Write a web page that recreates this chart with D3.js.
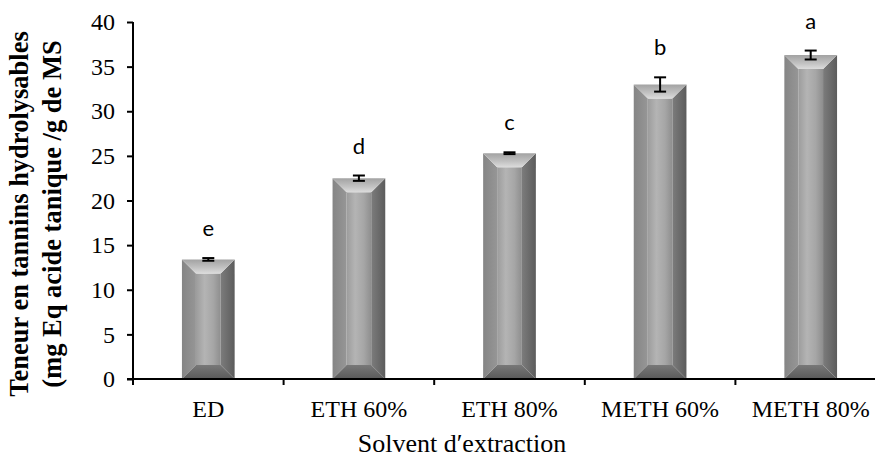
<!DOCTYPE html>
<html>
<head>
<meta charset="utf-8">
<script src="https://cdn.jsdelivr.net/npm/d3@7/dist/d3.min.js"></script>
<style>
  html, body { margin: 0; padding: 0; background: #ffffff; }
  svg { display: block; }
</style>
</head>
<body>
<svg id="chart" width="875" height="465"></svg>
<script>
// Hydrolysable tannin content by extraction solvent
const categories = ["ED", "ETH 60%", "ETH 80%", "METH 60%", "METH 80%"];
const values = [13.4, 22.5, 25.3, 33.0, 36.3];
const errors = [0.15, 0.3, 0.1, 0.8, 0.5];
const letters = ["e", "d", "c", "b", "a"];
const yTicks = [0, 5, 10, 15, 20, 25, 30, 35, 40];

const plotLeft = 133, plotRight = 886, plotTop = 22, plotBottom = 379;

const svg = d3.select("#chart");

const x = d3.scaleBand()
  .domain(categories)
  .range([plotLeft, plotRight])
  .paddingInner(0.65)
  .paddingOuter(0.325);

const y = d3.scaleLinear().domain([0, 40]).range([plotBottom, plotTop]);

// ---- gradients for the bevelled bar faces ----
const defs = svg.append("defs");
function linGrad(id, x1, y1, x2, y2, stops) {
  const g = defs.append("linearGradient").attr("id", id)
    .attr("x1", x1).attr("y1", y1).attr("x2", x2).attr("y2", y2);
  stops.forEach(([o, c]) => g.append("stop").attr("offset", o).attr("stop-color", c));
}
linGrad("gTop", 0, 0, 0, 1, [[0, "#a2a2a2"], [0.6, "#c2c2c2"], [1, "#dcdcdc"]]);
linGrad("gLeft", 0, 0, 1, 0, [[0, "#858585"], [1, "#969696"]]);
linGrad("gRight", 0, 0, 1, 0, [[0, "#7c7c7c"], [1, "#5c5c5c"]]);
linGrad("gBottom", 0, 0, 0, 1, [[0, "#787878"], [1, "#5a5a5a"]]);
linGrad("gFront", 0, 0, 1, 0, [[0, "#9c9c9c"], [0.35, "#b4b4b4"], [0.7, "#a6a6a6"], [1, "#8e8e8e"]]);

// ---- bars ----
const bev = 14;
const bars = svg.append("g").attr("class", "bars");
categories.forEach((c, i) => {
  const x0 = x(c), x1 = x(c) + x.bandwidth();
  const yt = y(values[i]), yb = y(0);
  const g = bars.append("g");
  const pts = a => a.map(p => p.join(",")).join(" ");
  g.append("polygon").attr("fill", "url(#gFront)")
    .attr("points", pts([[x0 + bev, yt + bev], [x1 - bev, yt + bev], [x1 - bev, yb - bev], [x0 + bev, yb - bev]]));
  g.append("polygon").attr("fill", "url(#gLeft)")
    .attr("points", pts([[x0, yt], [x0 + bev, yt + bev], [x0 + bev, yb - bev], [x0, yb]]));
  g.append("polygon").attr("fill", "url(#gRight)")
    .attr("points", pts([[x1, yt], [x1, yb], [x1 - bev, yb - bev], [x1 - bev, yt + bev]]));
  g.append("polygon").attr("fill", "url(#gTop)")
    .attr("points", pts([[x0, yt], [x1, yt], [x1 - bev, yt + bev], [x0 + bev, yt + bev]]));
  g.append("polygon").attr("fill", "url(#gBottom)")
    .attr("points", pts([[x0, yb], [x0 + bev, yb - bev], [x1 - bev, yb - bev], [x1, yb]]));
});

// ---- error bars ----
const eb = svg.append("g").attr("stroke", "#000").attr("stroke-width", 2).attr("fill", "none");
categories.forEach((c, i) => {
  const cx = x(c) + x.bandwidth() / 2;
  const yHi = y(values[i] + errors[i]), yLo = y(values[i] - errors[i]);
  eb.append("line").attr("x1", cx).attr("x2", cx).attr("y1", yHi).attr("y2", yLo);
  eb.append("line").attr("x1", cx - 6).attr("x2", cx + 6).attr("y1", yHi).attr("y2", yHi);
  eb.append("line").attr("x1", cx - 6).attr("x2", cx + 6).attr("y1", yLo).attr("y2", yLo);
});

// ---- significance letters ----
svg.append("g").selectAll("text").data(categories).join("text")
  .attr("x", c => x(c) + x.bandwidth() / 2)
  .attr("y", (c, i) => y(values[i] + errors[i]) - 22)
  .attr("text-anchor", "middle")
  .attr("font-family", "Lato, 'Open Sans', sans-serif")
  .attr("font-size", 22)
  .attr("fill", "#000")
  .text((c, i) => letters[i]);

// ---- y axis ----
const yAxis = svg.append("g")
  .attr("transform", `translate(${plotLeft},0)`)
  .call(d3.axisLeft(y).tickValues(yTicks).tickSize(6).tickSizeOuter(0).tickPadding(12));
yAxis.select(".domain").attr("stroke", "#000").attr("stroke-width", 2)
  .attr("d", `M0,${plotTop}V${plotBottom + 6}`);
yAxis.selectAll(".tick line").attr("stroke", "#000").attr("stroke-width", 2);
yAxis.selectAll(".tick text")
  .attr("font-family", "'Liberation Serif', 'Times New Roman', serif")
  .attr("font-size", 24).attr("fill", "#000");

// ---- x axis ----
const xAxis = svg.append("g")
  .attr("transform", `translate(0,${plotBottom})`)
  .call(d3.axisBottom(x).tickSize(0).tickPadding(21));
xAxis.select(".domain").attr("stroke", "#000").attr("stroke-width", 2)
  .attr("d", `M${plotLeft - 6},0H${plotRight}`);
xAxis.selectAll(".tick text")
  .attr("font-family", "'Liberation Serif', 'Times New Roman', serif")
  .attr("font-size", 24).attr("fill", "#000");

// category boundary ticks
const bounds = d3.range(categories.length + 1).map(i => plotLeft + i * x.step());
xAxis.append("g").selectAll("line").data(bounds).join("line")
  .attr("x1", d => d).attr("x2", d => d).attr("y1", 0).attr("y2", 6)
  .attr("stroke", "#000").attr("stroke-width", 2);

// ---- axis titles ----
svg.append("text")
  .attr("x", 462).attr("y", 452)
  .attr("text-anchor", "middle")
  .attr("font-family", "'Liberation Serif', 'Times New Roman', serif")
  .attr("font-size", 26).attr("fill", "#000")
  .text("Solvent d\u2032extraction");

const yTitle = svg.append("text")
  .attr("transform", "translate(0,214) rotate(-90)")
  .attr("text-anchor", "middle")
  .attr("font-family", "'Liberation Serif', 'Times New Roman', serif")
  .attr("font-weight", "bold")
  .attr("font-size", 26.5).attr("fill", "#000");
yTitle.append("tspan").attr("x", 0).attr("y", 28).text("Teneur en tannins hydrolysables");
yTitle.append("tspan").attr("x", 0).attr("y", 61).text("(mg Eq acide tanique /g de MS");
</script>
</body>
</html>
